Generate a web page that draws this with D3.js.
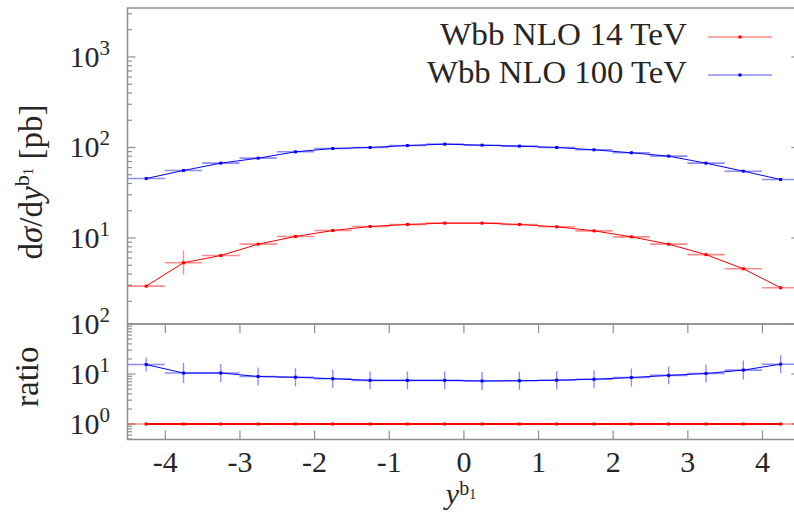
<!DOCTYPE html>
<html>
<head>
<meta charset="utf-8">
<script src="https://cdn.jsdelivr.net/npm/d3@7"></script>
<style>
  body { margin: 0; background: #fff; }
  svg { display: block; }
  text { font-family: "Liberation Serif", "DejaVu Serif", serif; fill: #262626; }
</style>
</head>
<body>
<svg id="chart" width="794" height="515"></svg>
<script>
// Rapidity bins of the leading b jet (bin centres, half width)
const binCenters = [-4.25, -3.75, -3.25, -2.75, -2.25, -1.75, -1.25, -0.75, -0.25,
                     0.25,  0.75,  1.25,  1.75,  2.25,  2.75,  3.25,  3.75,  4.25];
const binHalfWidth = 0.25;

// dσ/dy [pb]
const nlo14  = [2.94, 5.33, 6.41, 8.55, 10.4, 12.1, 13.4, 14.1, 14.6,
                14.6, 14.1, 13.3, 12.0, 10.3, 8.55, 6.55, 4.57, 2.82];
const nlo100 = [45.4, 55.7, 67.1, 76.2, 89.6, 97.5, 100, 105, 108.8,
                106, 103.4, 100, 94.3, 87.4, 80.2, 67.1, 54.7, 44.3];
// relative statistical uncertainties
const nlo14RelErr = [0, 0.36, 0, 0, 0, 0, 0, 0, 0, 0, 0, 0, 0, 0, 0, 0, 0, 0];
const ratioRelErr = [0.38, 0.58, 0.51, 0.51, 0.51, 0.51, 0.51, 0.51, 0.51,
                     0.51, 0.51, 0.51, 0.51, 0.51, 0.51, 0.51, 0.55, 0.51];

const seriesNames = ["Wbb NLO 14 TeV", "Wbb NLO 100 TeV"];
const xTicks = [-4, -3, -2, -1, 0, 1, 2, 3, 4];
const xTickLabels = ["-4", "-3", "-2", "-1", "0", "1", "2", "3", "4"];
const mainDecades = [1, 2, 3];
const ratioDecades = [0, 1, 2];

const FONT = "'Liberation Serif', 'DejaVu Serif', serif";
const svg = d3.select("#chart");
const L = 127.5, R = 799.3, T = 8, S = 324, B = 439.5;
const frameColor = "#8e8e8e";

const x = d3.scaleLinear().domain([-4.5, 4.5]).range([L, R]);
const yMain = d3.scaleLog().domain([1.122, 3475]).range([S, T]);
const yRatio = d3.scaleLog().domain([0.49, 100]).range([B, S]);

const series = [
  { name: seriesNames[0], values: nlo14, err: nlo14RelErr, color: "#ff0000", light: "rgba(255,0,0,0.45)" },
  { name: seriesNames[1], values: nlo100, err: null, color: "#0000ff", light: "rgba(0,0,255,0.45)" }
];
const ratioSeries = [
  { values: nlo14.map(() => 1), err: null, color: "#ff0000", light: "rgba(255,0,0,0.45)", width: 2.2 },
  { values: nlo100.map((v, i) => v / nlo14[i]), err: ratioRelErr, color: "#0000ff", light: "rgba(0,0,255,0.45)", width: 1 }
];

const defs = svg.append("defs");
defs.append("clipPath").attr("id", "clipMain")
  .append("rect").attr("x", L).attr("y", T).attr("width", R - L).attr("height", S - T);
defs.append("clipPath").attr("id", "clipRatio")
  .append("rect").attr("x", L).attr("y", S).attr("width", R - L).attr("height", B - S);

// minor + major log ticks inside a domain
function logTicks(scale) {
  const [a, b] = scale.domain();
  const out = [];
  for (let e = Math.floor(Math.log10(a)); e <= Math.ceil(Math.log10(b)); e++) {
    for (let m = 1; m <= 9; m++) {
      const v = m * Math.pow(10, e);
      if (v >= a * 0.999 && v <= b * 1.001) out.push({ v, major: m === 1 });
    }
  }
  return out;
}

function drawYTicks(scale) {
  const g = svg.append("g").attr("stroke", frameColor).attr("stroke-width", 1.2);
  logTicks(scale).forEach(t => {
    const len = t.major ? 8 : 4.5;
    const yy = scale(t.v);
    g.append("line").attr("x1", L).attr("x2", L + len).attr("y1", yy).attr("y2", yy);
    g.append("line").attr("x1", R).attr("x2", R - len).attr("y1", yy).attr("y2", yy);
  });
}
drawYTicks(yMain);
drawYTicks(yRatio);

// x ticks on the ratio panel (top and bottom edges, pointing inwards)
svg.append("g").attr("transform", `translate(0,${S})`)
  .call(d3.axisTop(x).tickValues(xTicks).tickSize(-9).tickFormat(""))
  .call(g => { g.select(".domain").remove(); g.selectAll("line").attr("stroke", frameColor).attr("stroke-width", 1.2); });
svg.append("g").attr("transform", `translate(0,${B})`)
  .call(d3.axisBottom(x).tickValues(xTicks).tickSize(-9).tickFormat(""))
  .call(g => { g.select(".domain").remove(); g.selectAll("line").attr("stroke", frameColor).attr("stroke-width", 1.2); });

// x tick labels
svg.append("g").attr("transform", `translate(0,${B})`)
  .call(d3.axisBottom(x).tickValues(xTicks).tickSize(0).tickPadding(11)
        .tickFormat((d, i) => xTickLabels[i]))
  .call(g => {
    g.select(".domain").remove();
    g.attr("font-family", null).attr("font-size", null);
    g.selectAll("text").style("font-family", FONT).style("font-size", "30px")
      .style("fill", "#262626").attr("dy", "0.71em");
  });

// y tick labels 10^n
function drawYLabels(scale, decades) {
  decades.forEach(e => {
    const t = svg.append("text").attr("x", 110).attr("y", scale(Math.pow(10, e)) + 10)
      .attr("text-anchor", "end").attr("font-size", 30);
    t.append("tspan").text("10");
    t.append("tspan").attr("font-size", 21).attr("dy", -12).text(e);
  });
}
drawYLabels(yMain, mainDecades);
drawYLabels(yRatio, ratioDecades);

// data marks
function drawSeries(list, yScale, clip) {
  const g = svg.append("g").attr("clip-path", `url(#${clip})`);
  list.forEach(s => {
    const pts = s.values.map((v, i) => ({ x: binCenters[i], y: v, e: s.err ? s.err[i] : 0 }));
    // bin-width bars
    g.append("g").selectAll("line").data(pts).join("line")
      .attr("x1", d => x(d.x - binHalfWidth)).attr("x2", d => x(d.x + binHalfWidth))
      .attr("y1", d => yScale(d.y)).attr("y2", d => yScale(d.y))
      .attr("stroke", s.light).attr("stroke-width", 1.6);
    // uncertainty bars
    g.append("g").selectAll("line").data(pts.filter(d => d.e > 0)).join("line")
      .attr("x1", d => x(d.x)).attr("x2", d => x(d.x))
      .attr("y1", d => yScale(d.y * (1 + d.e))).attr("y2", d => yScale(d.y / (1 + d.e)))
      .attr("stroke", s.light).attr("stroke-width", 1.4);
    // connecting line
    g.append("path").datum(pts)
      .attr("d", d3.line().x(d => x(d.x)).y(d => yScale(d.y)))
      .attr("fill", "none").attr("stroke", s.color).attr("stroke-width", s.width || 1);
    // points
    g.append("g").selectAll("rect").data(pts).join("rect")
      .attr("x", d => x(d.x) - 1.5).attr("y", d => yScale(d.y) - 1.5)
      .attr("width", 3).attr("height", 3).attr("fill", s.color);
  });
}
drawSeries(series, yMain, "clipMain");
drawSeries(ratioSeries, yRatio, "clipRatio");

// frames
svg.append("rect").attr("x", L).attr("y", T).attr("width", R - L).attr("height", S - T)
  .attr("fill", "none").attr("stroke", frameColor).attr("stroke-width", 1.5);
svg.append("rect").attr("x", L).attr("y", S).attr("width", R - L).attr("height", B - S)
  .attr("fill", "none").attr("stroke", frameColor).attr("stroke-width", 1.5);

// legend
const legendRows = [45, 83];
series.forEach((s, i) => {
  svg.append("text").attr("x", 687).attr("y", legendRows[i]).attr("text-anchor", "end")
    .attr("font-size", 31).attr("textLength", i === 0 ? 247 : 260)
    .attr("lengthAdjust", "spacingAndGlyphs").text(s.name);
  const ly = legendRows[i] - 8;
  svg.append("line").attr("x1", 708).attr("x2", 772).attr("y1", ly).attr("y2", ly)
    .attr("stroke", s.light).attr("stroke-width", 1.6);
  svg.append("rect").attr("x", 738.5).attr("y", ly - 1.5).attr("width", 3).attr("height", 3)
    .attr("fill", s.color);
});

// axis titles
const yTitle = svg.append("text").attr("transform", "translate(42,182) rotate(-90)")
  .attr("text-anchor", "middle").attr("font-size", 33);
yTitle.append("tspan").text("d");
yTitle.append("tspan").attr("font-style", "italic").text("σ");
yTitle.append("tspan").text("/d");
yTitle.append("tspan").attr("font-style", "italic").text("y");
yTitle.append("tspan").attr("font-size", 22).attr("dy", -13).text("b");
yTitle.append("tspan").attr("font-size", 15).attr("dy", 4).text("1");
yTitle.append("tspan").attr("dy", 9).text(" [pb]");

svg.append("text").attr("transform", `translate(38,${(S + B) / 2 - 5}) rotate(-90)`)
  .attr("text-anchor", "middle").attr("font-size", 33).text("ratio");

const xTitle = svg.append("text").attr("x", 461).attr("y", 504)
  .attr("text-anchor", "middle").attr("font-size", 30);
xTitle.append("tspan").attr("font-style", "italic").text("y");
xTitle.append("tspan").attr("font-size", 20).attr("dy", -9).text("b");
xTitle.append("tspan").attr("font-size", 14).attr("dy", 4).text("1");
</script>
</body>
</html>
